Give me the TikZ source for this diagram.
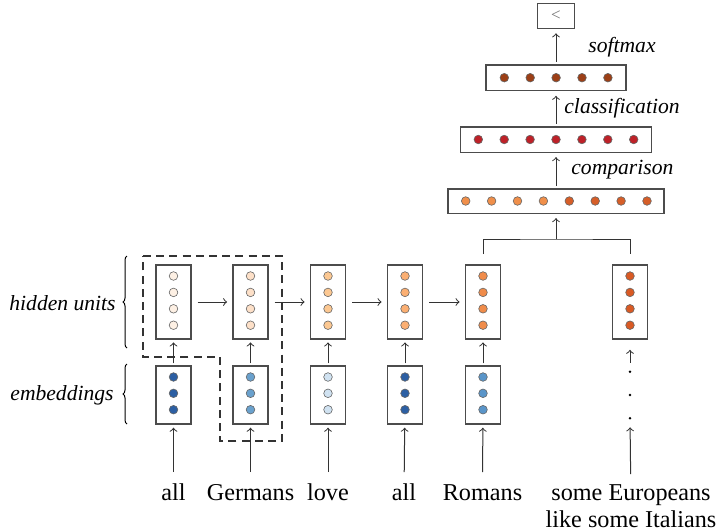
\documentclass[tikz,border=0pt]{standalone}
\usepackage{fontspec}
\setmainfont{Liberation Serif}
\usetikzlibrary{decorations.pathreplacing}

\definecolor{hidA}{HTML}{FDF0E4}
\definecolor{hidB}{HTML}{FDE0C8}
\definecolor{hidC}{HTML}{FCC892}
\definecolor{hidD}{HTML}{FBAF72}
\definecolor{hidE}{HTML}{F08C4A}
\definecolor{hidF}{HTML}{D95A24}
\definecolor{embA}{HTML}{2C5FA3}
\definecolor{embB}{HTML}{6AA1CD}
\definecolor{embC}{HTML}{D0E2F1}
\definecolor{embD}{HTML}{5A95C9}
\definecolor{cmpA}{HTML}{F08F4A}
\definecolor{cmpB}{HTML}{D65E28}
\definecolor{clsA}{HTML}{BE2128}
\definecolor{smxA}{HTML}{9C3F16}

\begin{document}
\begin{tikzpicture}[x=0.5pt, y=-0.5pt,
	box/.style={rectangle, draw=black!70, line width=0.8pt, inner sep=0},
	hidbox/.style={box, minimum width=17.6pt, minimum height=37pt},
	embbox/.style={box, minimum width=17.6pt, minimum height=28.9pt},
	unit/.style={circle, draw=black!60, line width=0.3pt, inner sep=0, minimum size=4.3pt},
	dot/.style={circle, fill=black, inner sep=0, minimum size=1.4pt},
	word/.style={inner sep=0, text height=9pt, text depth=3pt, font=\fontsize{12.1}{13.6}\selectfont},
	tag/.style={inner sep=0, font=\fontsize{10.8}{12}\selectfont\itshape},
	arr/.style={->, line width=0.5pt, draw=black!80},
	brc/.style={decorate, decoration={brace, amplitude=2pt}, line width=0.5pt}]
	\useasboundingbox (0,0) rectangle (717,531);

	% recurrent part
	\foreach \x/\c [count=\i] in {173.5/hidA, 250.5/hidB, 328/hidC, 405/hidD, 483/hidE, 630/hidF} {
		\node[hidbox] (hid-\i) at (\x,302) {};
		\foreach \y in {276,292.4,308.8,325.2}
			\node[unit, fill=\c] at (\x,\y) {};
	}
	\foreach \x/\c [count=\i] in {173.5/embA, 250.5/embB, 328/embC, 405/embA, 483/embD} {
		\node[embbox] (emb-\i) at (\x,395) {};
		\foreach \y in {377,393.3,409.7}
			\node[unit, fill=\c] at (\x,\y) {};
	}

	\node[word, anchor=north] (word-1) at (173.5,482) {all};
	\node[word, anchor=north] (word-2) at (250.5,482) {Germans};
	\node[word, anchor=north] (word-3) at (328,482) {love};
	\node[word, anchor=north] (word-4) at (404,482) {all};
	\node[word, anchor=north] (word-5) at (482.5,482) {Romans};
	\node[inner sep=0, align=center, anchor=north, font=\fontsize{12.1}{13.6}\selectfont] (word-6) at (631,484) {some Europeans\\like some Italians};

	\foreach \i in {1,...,5} {
		\draw[arr, shorten <=5pt, shorten >=1.5pt] (word-\i) -- (emb-\i);
		\draw[arr, shorten <=1pt, shorten >=1.3pt] (emb-\i) -- (hid-\i);
	}
	\foreach \i/\j in {1/2, 2/3, 3/4, 4/5}
		\draw[arr, shorten <=2.8pt, shorten >=2.5pt] (hid-\i) -- (hid-\j);

	\node[dot] (dots-1) at (630,371.7) {};
	\node[dot] (dots-2) at (630,395) {};
	\node[dot] (dots-3) at (630,418.3) {};
	\draw[arr, shorten <=3.6pt, shorten >=5pt] (dots-1) -- (hid-6);
	\draw[arr, shorten <=5pt, shorten >=3.6pt] (word-6) -- (dots-3);

	% window
	\draw[dashed, dash pattern=on 4pt off 2.6pt, line width=0.6pt, black!80]
		(143,256) -- (282,256) -- (282,441) -- (220,441) -- (220,357) -- (143,357) -- cycle;

	\draw[brc] (127,348) -- (127,256);
	\draw[brc] (127,424) -- (127,364);
	\node[tag, anchor=east] (lbl-hid) at (116,303) {hidden units};
	\node[tag, anchor=east] (lbl-emb) at (114,395) {embeddings};

	% classifier
	\node[box, minimum width=107.9pt, minimum height=12.3pt] (comp) at (556,201) {};
	\foreach \i in {0,...,3} \node[unit, fill=cmpA] at (465.7+25.9*\i,201) {};
	\foreach \i in {4,...,7} \node[unit, fill=cmpB] at (465.7+25.9*\i,201) {};
	\node[box, minimum width=95.5pt, minimum height=12.8pt] (class) at (556,139.5) {};
	\foreach \i in {0,...,6} \node[unit, fill=clsA] at (478.3+25.9*\i,139.5) {};
	\node[box, minimum width=69.9pt, minimum height=12.7pt] (soft) at (556,77.7) {};
	\foreach \i in {0,...,4} \node[unit, fill=smxA] at (504.3+25.9*\i,77.7) {};
	\node[box, minimum width=18.5pt, minimum height=12.5pt, text=black!55, font=\fontsize{8.5}{9}\selectfont] (out) at (556,16) {<};

	\coordinate (join) at (556,239);
	\draw[line width=0.5pt, draw=black!80, shorten <=5pt, shorten >=5pt] (hid-5) |- (join) -| (hid-6);
	\draw[arr, shorten >=2pt] (join) -- (comp);
	\draw[arr, shorten <=1pt, shorten >=2pt] (comp) -- (class);
	\draw[arr, shorten <=1pt, shorten >=2.3pt] (class) -- (soft);
	\draw[arr, shorten <=1.3pt, shorten >=2pt] (soft) -- (out);

	\node[tag, anchor=west] (lbl-cmp) at (571,170) {comparison};
	\node[tag, anchor=west] (lbl-cls) at (564,108) {classification};
	\node[tag, anchor=west] (lbl-smx) at (588,47) {softmax};
\end{tikzpicture}
\end{document}
